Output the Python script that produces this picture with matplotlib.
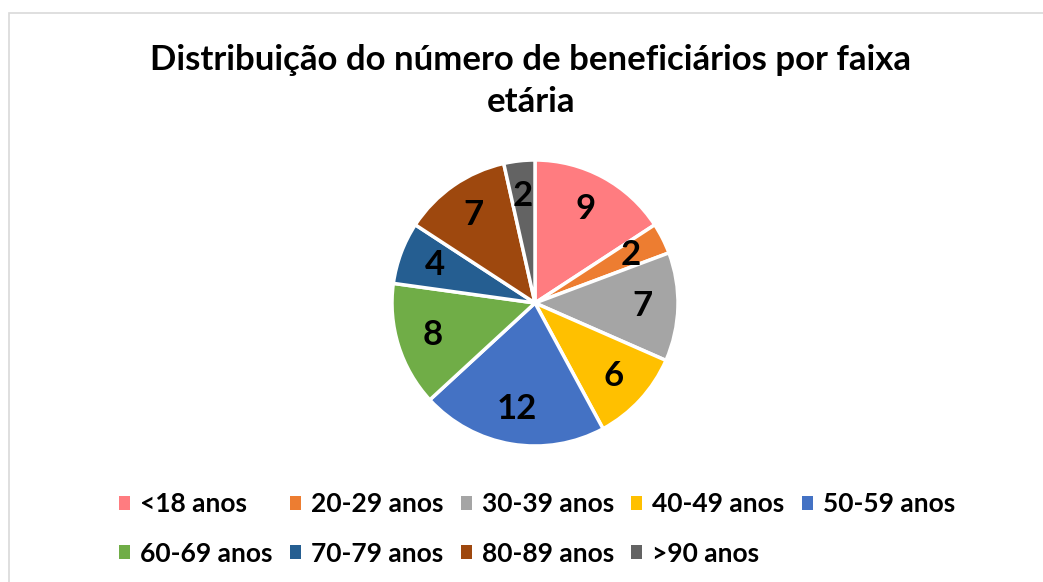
import matplotlib
matplotlib.use('Agg')
import matplotlib.pyplot as plt
from matplotlib.patches import Patch, Rectangle

plt.rcParams['font.family'] = ['Lato', 'DejaVu Sans']
plt.rcParams['font.weight'] = 'bold'

faixas = ['<18 anos', '20-29 anos', '30-39 anos', '40-49 anos', '50-59 anos',
          '60-69 anos', '70-79 anos', '80-89 anos', '>90 anos']
beneficiarios = [9, 2, 7, 6, 12, 8, 4, 7, 2]
cores = ['#FF7C80', '#ED7D31', '#A5A5A5', '#FFC000', '#4472C4',
         '#70AD47', '#255E91', '#9E480E', '#636363']

W, H = 1043, 582
fig = plt.figure(figsize=(W / 100, H / 100), dpi=100)

# chart frame (only top and left edges visible)
fig.patches.append(Rectangle((9 / W, -0.1), 1.2, 1 - 13 / H + 0.1,
                             transform=fig.transFigure, fill=False,
                             edgecolor='#D9D9D9', linewidth=1.2))

r = 143
cx, cy = 535, 303
ax = fig.add_axes([(cx - r) / W, 1 - (cy + r) / H, 2 * r / W, 2 * r / H])
total = sum(beneficiarios)
ax.pie(beneficiarios, colors=cores, startangle=90, counterclock=False,
       wedgeprops=dict(edgecolor='white', linewidth=2.5),
       autopct=lambda p: '%d' % round(p * total / 100), pctdistance=0.75,
       textprops=dict(fontsize=25, fontweight='bold', color='black'))
ax.set_xlim(-1, 1)
ax.set_ylim(-1, 1)
ax.set_aspect('equal')
ax.axis('off')

fig.text(531 / W, 1 - 81 / H,
         'Distribuição do número de beneficiários por faixa\netária',
         ha='center', va='center', fontsize=25, fontweight='bold',
         linespacing=1.42)

# legend filled row by row (matplotlib fills column by column)
ordem = [0, 5, 1, 6, 2, 7, 3, 8, 4]
handles = [Patch(facecolor=cores[i], edgecolor='none') for i in ordem]
labels = [faixas[i] for i in ordem]
fig.legend(handles, labels, loc='center', bbox_to_anchor=(537 / W, 1 - 529 / H),
           ncol=5, frameon=False, fontsize=19, handlelength=0.42,
           handleheight=0.42, handletextpad=0.38, columnspacing=0.65,
           labelspacing=0.95)

fig.savefig('out.png', dpi=100)
